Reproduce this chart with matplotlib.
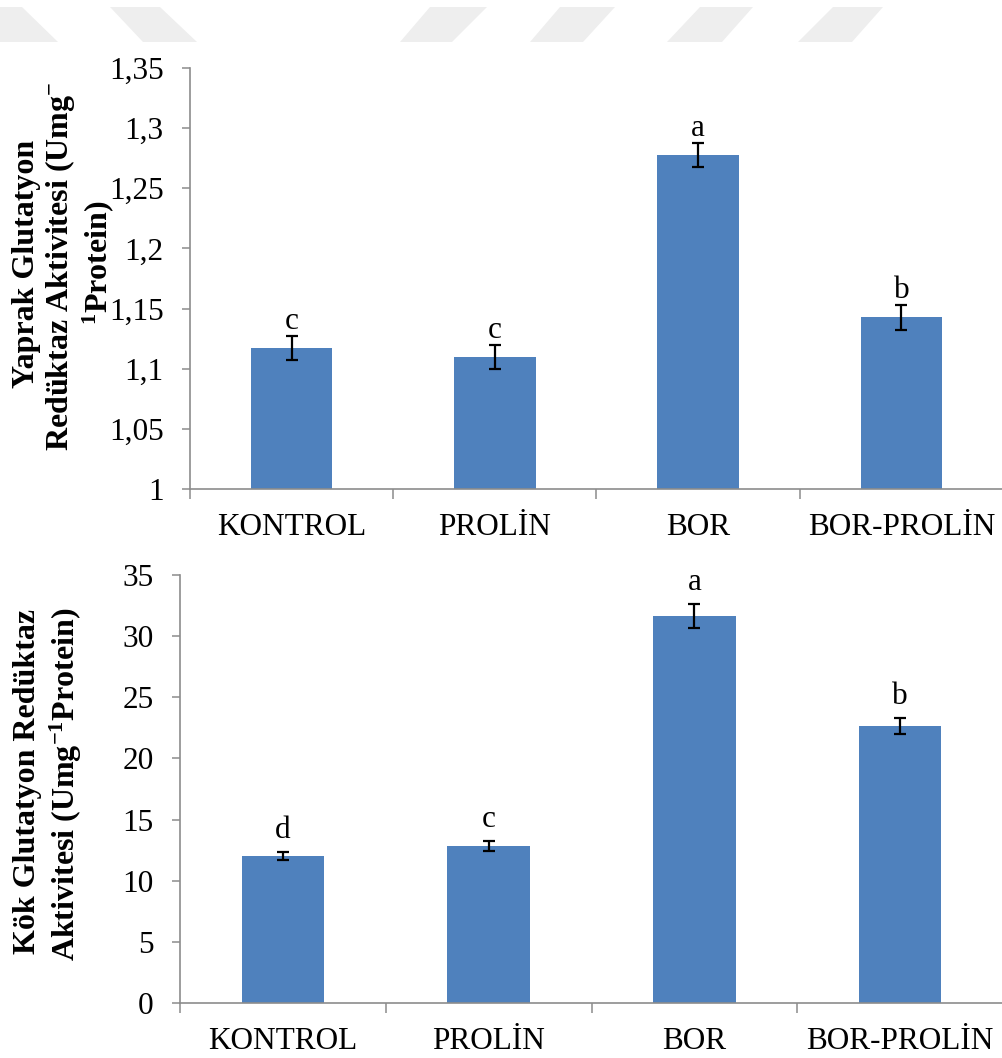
import matplotlib
matplotlib.use('Agg')
import matplotlib.pyplot as plt
from matplotlib.patches import Polygon

plt.rcParams['font.family'] = ['Liberation Serif', 'DejaVu Serif']
plt.rcParams['mathtext.fontset'] = 'custom'
plt.rcParams['mathtext.rm'] = 'Liberation Serif'
plt.rcParams['mathtext.default'] = 'regular'

# ---------------- data ----------------
categories = ['KONTROL', 'PROLİN', 'BOR', 'BOR-PROLİN']

leaf_values = [1.117, 1.110, 1.2777, 1.1427]
leaf_errors = [0.0100, 0.0100, 0.0102, 0.0102]
leaf_letters = ['c', 'c', 'a', 'b']
leaf_yticks = [1.0, 1.05, 1.1, 1.15, 1.2, 1.25, 1.3, 1.35]
leaf_yticklabels = ['1', '1,05', '1,1', '1,15', '1,2', '1,25', '1,3', '1,35']

root_values = [12.02, 12.84, 31.65, 22.65]
root_errors = [0.35, 0.40, 0.98, 0.65]
root_letters = ['d', 'c', 'a', 'b']
root_yticks = [0, 5, 10, 15, 20, 25, 30, 35]
root_yticklabels = ['0', '5', '10', '15', '20', '25', '30', '35']

W, H = 1003, 1058
BAR_COLOR = '#4F81BD'
AXIS_COLOR = '#8c8c8c'
FS = 22.5


def fx(x):
    return x / W


def fy(y):
    return 1 - y / H


fig = plt.figure(figsize=(W / 100, H / 100), dpi=100)

# faint watermark stripes at the top
stripes = [
    [(-36, 7), (22, 7), (58, 42), (0, 42)],
    [(110, 7), (160, 7), (197, 42), (143, 42)],
    [(430, 7), (487, 7), (452, 42), (400, 42)],
    [(560, 7), (615, 7), (583, 42), (530, 42)],
    [(700, 7), (753, 7), (722, 42), (667, 42)],
    [(833, 7), (883, 7), (852, 42), (798, 42)],
]
for s in stripes:
    fig.patches.append(Polygon([(fx(a), fy(b)) for a, b in s], closed=True,
                               transform=fig.transFigure, facecolor='#eeeeee',
                               edgecolor='none', zorder=0))


def draw(ax, values, errors, letters, ylim, yticks, yticklabels, letter_off):
    x = list(range(len(categories)))
    ax.bar(x, values, width=0.4, color=BAR_COLOR, zorder=2)
    ax.errorbar(x, values, yerr=errors, fmt='none', ecolor='black',
                elinewidth=1.6, capsize=4.3, capthick=1.6, zorder=3)
    for i, (v, e, l) in enumerate(zip(values, errors, letters)):
        ax.annotate(l, (i, v + e), xytext=(0, letter_off), textcoords='offset points',
                    ha='center', va='baseline', fontsize=FS)
    ax.set_xlim(-0.5, len(categories) - 0.5)
    ax.set_ylim(*ylim)
    ax.set_yticks(yticks)
    ax.set_yticklabels(yticklabels)
    ax.set_xticks(x)
    ax.set_xticklabels(categories)
    ax.set_xticks([i - 0.5 for i in range(len(categories) + 1)], minor=True)
    ax.tick_params(axis='x', which='major', length=0, pad=17, labelsize=FS)
    ax.tick_params(axis='x', which='minor', length=7, width=1.1, color=AXIS_COLOR, direction='out')
    ax.tick_params(axis='y', length=6, width=1.1, color=AXIS_COLOR, direction='out',
                   pad=13, labelsize=FS)
    for sp in ['top', 'right']:
        ax.spines[sp].set_visible(False)
    for sp in ['left', 'bottom']:
        ax.spines[sp].set_color(AXIS_COLOR)
        ax.spines[sp].set_linewidth(1.2)
    ax.set_facecolor('none')


ax1 = fig.add_axes([fx(190), fy(489), (1003 - 190) / W, (489 - 68) / H])
draw(ax1, leaf_values, leaf_errors, leaf_letters, (1.0, 1.35), leaf_yticks, leaf_yticklabels, 5)

ax2 = fig.add_axes([fx(180), fy(1003), (1003 - 180) / W, (1003 - 575) / H])
draw(ax2, root_values, root_errors, root_letters, (0, 35), root_yticks, root_yticklabels, 10)

# y-axis labels
lab = dict(rotation=90, ha='center', va='center', fontsize=23, fontweight='bold')
fig.text(fx(27), fy(264), 'Yaprak Glutatyon', **lab)
fig.text(fx(60), fy(266), 'Redüktaz Aktivitesi (Umg$^{-}$', **lab)
fig.text(fx(98), fy(263), '$^{1}$Protein)', **lab)
fig.text(fx(28), fy(782), 'Kök Glutatyon Redüktaz', **lab)
fig.text(fx(66), fy(784), 'Aktivitesi (Umg$^{-1}$Protein)', **lab)

fig.savefig('out.png', dpi=100)
